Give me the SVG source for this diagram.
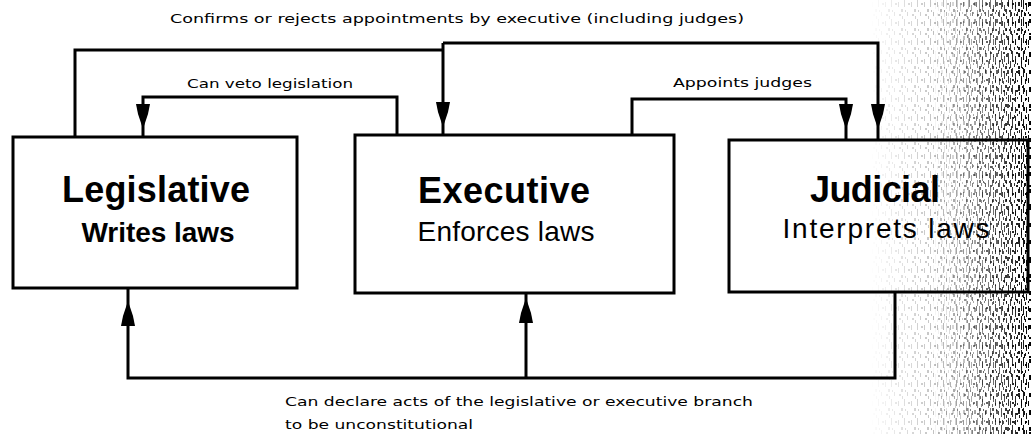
<svg xmlns="http://www.w3.org/2000/svg" xmlns:xlink="http://www.w3.org/1999/xlink" width="1031" height="434" viewBox="0 0 1031 434">
  <style>
    .box { fill: none; stroke: #000; stroke-width: 3; }
    .conn { fill: none; stroke: #000; stroke-width: 3; stroke-linejoin: miter; }
    .title { font-family: "Liberation Sans", Arial, sans-serif; font-weight: bold; font-size: 36px; fill: #000; text-anchor: middle; }
    .sub { font-family: "Liberation Sans", Arial, sans-serif; font-size: 28px; fill: #000; text-anchor: middle; }
    .lbl { font-family: "DejaVu Sans", Verdana, sans-serif; font-size: 13px; fill: #000; }
  </style>
  <defs>
    <path id="ah" d="M-7,0 H7 L5,10 L1,22 H-1 L-5,10 Z" fill="#000"/>
    <pattern id="n1" width="13" height="19" patternUnits="userSpaceOnUse">
      <rect x="1" y="2" width="1" height="5"/>
      <rect x="4" y="9" width="2" height="3"/>
      <rect x="7" y="0" width="1" height="7"/>
      <rect x="10" y="12" width="1" height="4"/>
      <rect x="2" y="14" width="2" height="2"/>
      <rect x="8" y="10" width="1" height="2"/>
      <rect x="11" y="3" width="2" height="2"/>
      <rect x="5" y="16" width="1" height="3"/>
    </pattern>
    <pattern id="n2" width="11" height="17" patternUnits="userSpaceOnUse">
      <rect x="0" y="0" width="1" height="9"/>
      <rect x="3" y="5" width="1" height="6"/>
      <rect x="6" y="2" width="2" height="4"/>
      <rect x="9" y="10" width="1" height="7"/>
      <rect x="2" y="13" width="1" height="3"/>
      <rect x="5" y="12" width="1" height="2"/>
    </pattern>
    <linearGradient id="fade1" x1="0" y1="0" x2="1" y2="0">
      <stop offset="0" stop-color="#fff" stop-opacity="0"/>
      <stop offset="0.5" stop-color="#fff" stop-opacity="0.3"/>
      <stop offset="1" stop-color="#fff" stop-opacity="1"/>
    </linearGradient>
    <linearGradient id="fade2" x1="0" y1="0" x2="1" y2="0">
      <stop offset="0" stop-color="#fff" stop-opacity="0"/>
      <stop offset="0.35" stop-color="#fff" stop-opacity="0.25"/>
      <stop offset="1" stop-color="#fff" stop-opacity="1"/>
    </linearGradient>
    <mask id="m1" maskUnits="userSpaceOnUse" x="870" y="0" width="161" height="434">
      <rect x="870" y="0" width="161" height="434" fill="url(#fade1)"/>
    </mask>
    <mask id="m2" maskUnits="userSpaceOnUse" x="930" y="0" width="101" height="434">
      <rect x="930" y="0" width="101" height="434" fill="url(#fade2)"/>
    </mask>
  </defs>

  <rect width="1031" height="434" fill="#fff"/>

  <g id="scan-noise">
    <rect x="870" y="0" width="161" height="434" fill="url(#n1)" mask="url(#m1)"/>
    <rect x="930" y="0" width="101" height="434" fill="url(#n2)" mask="url(#m2)"/>
  </g>

  <g id="connectors">
    <!-- Confirms or rejects appointments -->
    <path class="conn" d="M75,137 V50 H443"/>
    <path class="conn" d="M443,43 H878 V140"/>
    <path class="conn" d="M443,43 V135"/>
    <use xlink:href="#ah" href="#ah" x="443" y="102"/>
    <use xlink:href="#ah" href="#ah" x="878" y="104"/>
    <!-- Can veto legislation -->
    <path class="conn" d="M397,135 V97 H143 V137"/>
    <use xlink:href="#ah" href="#ah" x="143" y="104"/>
    <!-- Appoints judges -->
    <path class="conn" d="M632,135 V99 H846 V140"/>
    <use xlink:href="#ah" href="#ah" x="846" y="104"/>
    <!-- Judicial review -->
    <path class="conn" d="M895,292 V378 H128 V288"/>
    <path class="conn" d="M526,378 V293"/>
    <use xlink:href="#ah" href="#ah" transform="translate(128,326) rotate(180)"/>
    <use xlink:href="#ah" href="#ah" transform="translate(526,323) rotate(180)"/>
    <text class="lbl" x="170" y="23" textLength="574" lengthAdjust="spacingAndGlyphs">Confirms or rejects appointments by executive (including judges)</text>
    <text class="lbl" x="187" y="88" textLength="166" lengthAdjust="spacingAndGlyphs">Can veto legislation</text>
    <text class="lbl" x="673" y="87" textLength="139" lengthAdjust="spacingAndGlyphs">Appoints judges</text>
    <text class="lbl" x="285" y="406" font-size="15" textLength="468" lengthAdjust="spacingAndGlyphs">Can declare acts of the legislative or executive branch</text>
    <text class="lbl" x="285" y="429" font-size="15" textLength="188" lengthAdjust="spacingAndGlyphs">to be unconstitutional</text>
  </g>

  <g id="legislative">
    <rect class="box" x="13" y="137" width="284" height="151"/>
    <text class="title" x="156" y="202" textLength="188">Legislative</text>
    <text class="sub" x="158" y="242" font-size="27" font-weight="bold" textLength="153">Writes laws</text>
  </g>

  <g id="executive">
    <rect class="box" x="355" y="135" width="319" height="158"/>
    <text class="title" x="504" y="203" textLength="172">Executive</text>
    <text class="sub" x="506" y="241" textLength="177">Enforces laws</text>
  </g>

  <g id="judicial">
    <rect class="box" x="729" y="140" width="299" height="152"/>
    <text class="title" x="875" y="202" font-size="35" textLength="130">Judicial</text>
    <text class="sub" x="886" y="238" textLength="207">Interprets laws</text>
  </g>
</svg>
